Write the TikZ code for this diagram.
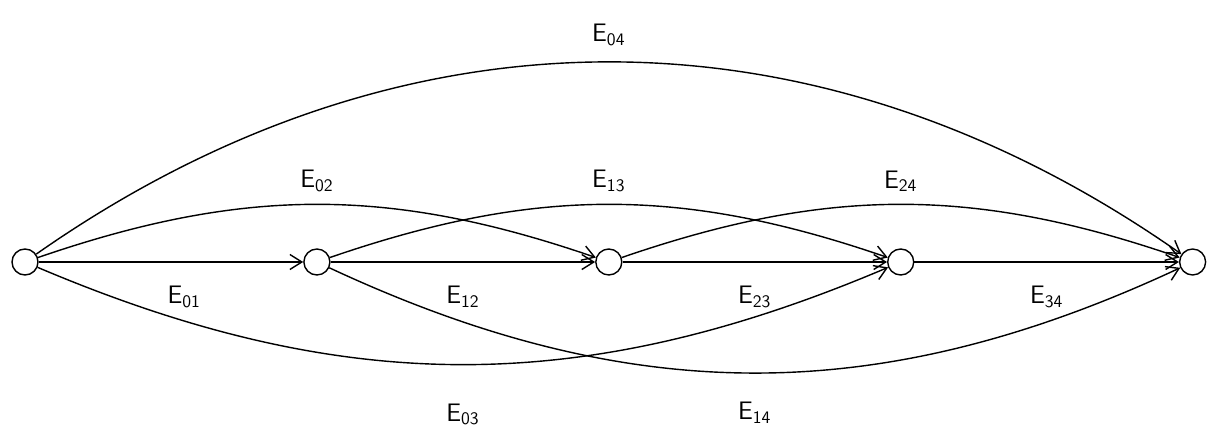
\documentclass[tikz,border=0pt]{standalone}
\usepackage{tikz}
\usetikzlibrary{arrows.meta, positioning}
\tikzstyle{vertex} = [circle, draw=black, minimum size=0.52cm, inner sep=0pt, line width=0.8pt]
\tikzstyle{arrow}  = [line width=0.8pt, -{Straight Barb[length=2.4mm,width=3mm]}]
\tikzstyle{elabel} = [font=\Large\sffamily]
\newcommand{\edge}[1]{E\textsubscript{#1}}

\begin{document}
\begin{tikzpicture}[node distance=5.29cm]
  \useasboundingbox (-0.5,-3.54) rectangle (23.74,5.24);

  \node[vertex]               (v0) {};
  \node[vertex, right=of v0]  (v1) {};
  \node[vertex, right=of v1]  (v2) {};
  \node[vertex, right=of v2]  (v3) {};
  \node[vertex, right=of v3]  (v4) {};

  % straight edges
  \draw[arrow] (v0) -- node[elabel, below=0.35cm, pos=0.55] {\edge{01}} (v1);
  \draw[arrow] (v1) -- node[elabel, below=0.35cm] {\edge{12}} (v2);
  \draw[arrow] (v2) -- node[elabel, below=0.35cm] {\edge{23}} (v3);
  \draw[arrow] (v3) -- node[elabel, below=0.35cm] {\edge{34}} (v4);

  % upper arcs
  \draw[arrow] (v0) to[bend left=19] node[elabel, above=0.12cm] {\edge{02}} (v2);
  \draw[arrow] (v1) to[bend left=19] node[elabel, above=0.12cm] {\edge{13}} (v3);
  \draw[arrow] (v2) to[bend left=19] node[elabel, above=0.12cm] {\edge{24}} (v4);
  \draw[arrow] (v0) to[bend left=35] node[elabel, above=0.2cm]  {\edge{04}} (v4);

  % lower arcs
  \draw[arrow] (v0) to[bend right=23] node[elabel, below=0.65cm] {\edge{03}} (v3);
  \draw[arrow] (v1) to[bend right=25] node[elabel, below=0.45cm] {\edge{14}} (v4);
\end{tikzpicture}
\end{document}
